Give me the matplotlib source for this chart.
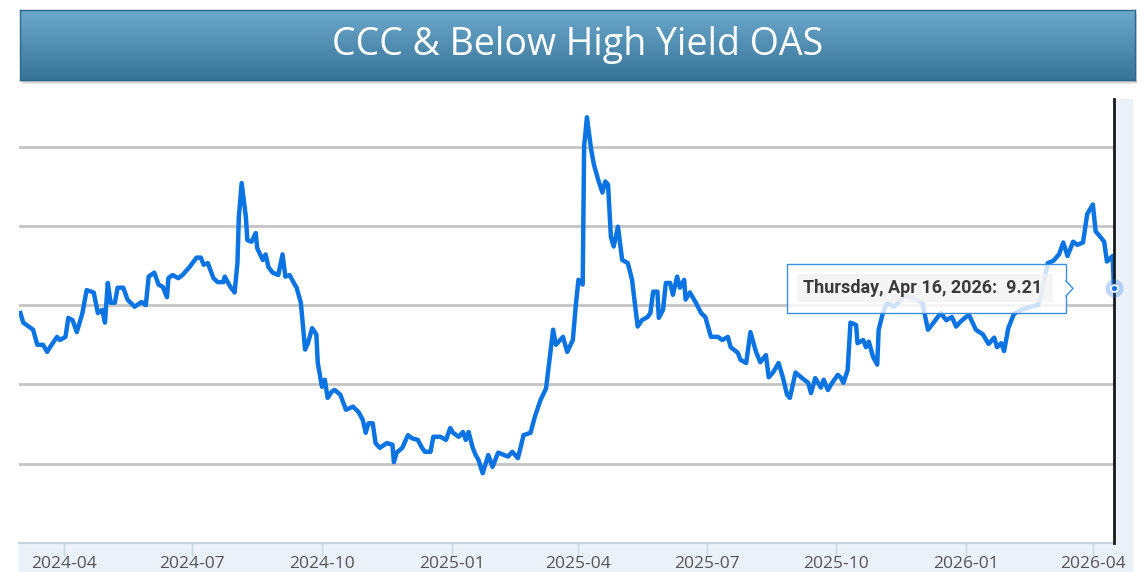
import numpy as np
import pandas as pd
import matplotlib
matplotlib.use("Agg")
import matplotlib.pyplot as plt
import matplotlib.dates as mdates
from matplotlib.patches import Rectangle, Polygon
from matplotlib.transforms import IdentityTransform

# ---------------- data ----------------
BASE_DATE = "2024-04-01"
day_offsets = [
    -31, -29, -22, -19, -15, -12, -10, -5, -3, 1, 3, 6, 9, 13, 16, 21, 24, 27, 29, 31,
    33, 36, 38, 42, 45, 50, 55, 58, 60, 64, 67, 70, 73, 74, 77, 81, 84, 89, 94, 97,
    99, 102, 106, 109, 113, 114, 118, 121, 123, 124, 126, 129, 130, 133, 136, 137, 141, 143, 145, 148,
    152, 155, 157, 160, 163, 165, 168, 171, 173, 176, 179, 180, 183, 185, 187, 190, 192, 196, 200, 205,
    209, 212, 214, 216, 219, 221, 224, 229, 233, 234, 236, 240, 244, 247, 251, 254, 256, 260, 262, 267,
    271, 274, 276, 280, 283, 285, 287, 290, 292, 294, 297, 301, 304, 308, 315, 318, 322, 324, 326, 331,
    334, 338, 342, 345, 347, 349, 354, 357, 361, 363, 365, 368, 369, 371, 374, 376, 379, 382, 384, 386,
    388, 390, 393, 396, 400, 403, 407, 410, 414, 416, 418, 421, 422, 425, 427, 430, 432, 435, 437, 440,
    441, 444, 448, 452, 455, 459, 464, 467, 471, 473, 478, 480, 484, 487, 491, 494, 498, 500, 503, 507,
    510, 513, 515, 519, 523, 528, 530, 533, 537, 539, 542, 545, 549, 551, 553, 556, 558, 562, 563, 567,
    569, 571, 574, 577, 578, 581, 584, 589, 597, 602, 609, 613, 617, 622, 626, 630, 633, 636, 642, 647,
    652, 656, 660, 662, 665, 667, 670, 674, 679, 686, 691, 693, 698, 702, 706, 709, 712, 716, 719, 723,
    726, 730, 732, 734, 738, 740, 744, 745,
]
oas_values = [
    8.90, 8.78, 8.69, 8.50, 8.50, 8.41, 8.47, 8.60, 8.56, 8.60, 8.84, 8.81, 8.66, 8.90, 9.19, 9.16, 8.90, 8.94, 8.78, 9.28,
    9.03, 9.03, 9.22, 9.22, 9.07, 8.98, 9.04, 9.00, 9.36, 9.41, 9.26, 9.23, 9.10, 9.34, 9.38, 9.34, 9.38, 9.48, 9.60, 9.60,
    9.51, 9.53, 9.34, 9.29, 9.29, 9.36, 9.23, 9.16, 9.53, 10.11, 10.54, 10.11, 9.82, 9.80, 9.91, 9.72, 9.57, 9.64, 9.48, 9.41,
    9.38, 9.64, 9.36, 9.38, 9.28, 9.22, 9.03, 8.44, 8.52, 8.71, 8.63, 8.27, 7.97, 8.06, 7.83, 7.91, 7.93, 7.87, 7.68, 7.72,
    7.65, 7.55, 7.39, 7.51, 7.51, 7.26, 7.20, 7.26, 7.24, 7.02, 7.14, 7.20, 7.36, 7.32, 7.30, 7.20, 7.15, 7.15, 7.34, 7.34,
    7.30, 7.45, 7.39, 7.34, 7.40, 7.30, 7.40, 7.20, 7.11, 7.05, 6.88, 7.11, 6.96, 7.14, 7.09, 7.15, 7.07, 7.21, 7.36, 7.39,
    7.59, 7.80, 7.95, 8.40, 8.69, 8.50, 8.60, 8.41, 8.56, 8.98, 9.32, 9.26, 11.00, 11.37, 10.96, 10.77, 10.58, 10.42, 10.56, 10.52,
    9.86, 9.74, 9.99, 9.57, 9.53, 9.32, 8.73, 8.81, 8.85, 8.90, 9.17, 9.17, 8.84, 8.94, 9.28, 9.28, 9.13, 9.36, 9.22, 9.32,
    9.07, 9.16, 9.04, 8.90, 8.85, 8.60, 8.60, 8.56, 8.60, 8.47, 8.40, 8.31, 8.27, 8.66, 8.41, 8.28, 8.37, 8.09, 8.15, 8.27,
    8.09, 7.87, 7.83, 8.15, 8.09, 8.02, 7.89, 8.08, 7.96, 8.06, 7.93, 8.02, 8.12, 8.09, 8.02, 8.18, 8.78, 8.75, 8.52, 8.56,
    8.47, 8.54, 8.35, 8.25, 8.69, 8.90, 9.03, 8.98, 9.13, 9.09, 9.03, 8.69, 8.78, 8.90, 8.81, 8.85, 8.73, 8.79, 8.88, 8.69,
    8.63, 8.51, 8.59, 8.47, 8.52, 8.42, 8.71, 8.89, 8.94, 8.98, 9.00, 9.10, 9.53, 9.56, 9.64, 9.79, 9.62, 9.80, 9.76, 9.79,
    10.15, 10.27, 9.93, 9.89, 9.80, 9.55, 9.62, 9.21,
]
tick_labels = ["2024-04", "2024-07", "2024-10", "2025-01", "2025-04",
               "2025-07", "2025-10", "2026-01", "2026-04"]
grid_levels = [7, 8, 9, 10, 11]
y_range = (6.0, 11.6)
title_text = "CCC & Below High Yield OAS"
tooltip_text = "Thursday, Apr 16, 2026:  9.21"

dates = pd.Timestamp(BASE_DATE) + pd.to_timedelta(day_offsets, unit="D")
values = np.array(oas_values)

# ---------------- figure ----------------
W, H = 1145, 572
fig = plt.figure(figsize=(W / 100, H / 100), dpi=100)
fig.patch.set_facecolor("white")

def fr(x0, y0, x1, y1):
    """pixel box (top-left origin) -> figure fraction rect"""
    return [x0 / W, 1 - y1 / H, (x1 - x0) / W, (y1 - y0) / H]

# banner shadow
for i, a in enumerate([0.10, 0.10, 0.12, 0.15]):
    off = 4 - i
    r = fr(20 + off * 0.5, 10 + off, 1135 + off * 0.5, 80 + off)
    fig.add_artist(Rectangle((r[0], r[1]), r[2], r[3], transform=fig.transFigure,
                             facecolor="#333333", edgecolor="none", alpha=a, zorder=0))

# banner gradient
bax = fig.add_axes(fr(20, 10, 1135, 80), zorder=1)
top_c = np.array([0x6c, 0xa8, 0xcb]) / 255
bot_c = np.array([0x38, 0x74, 0x97]) / 255
t = np.linspace(0, 1, 100)[:, None, None]
grad = top_c * (1 - t) + bot_c * t
grad = np.repeat(grad, 2, axis=1)
bax.imshow(grad, aspect="auto", extent=(0, 1, 0, 1), origin="upper")
bax.set_xlim(0, 1)
bax.set_ylim(0, 1)
for s in bax.spines.values():
    s.set_color("#2e6787")
    s.set_linewidth(1)
bax.set_xticks([])
bax.set_yticks([])
bax.text(0.5, 0.5, title_text, ha="center", va="center", color="white",
         fontsize=27, family="Open Sans", transform=bax.transAxes)

# light-blue strips (axis band and right margin)
r = fr(19, 543, 1133, 572)
fig.add_artist(Rectangle((r[0], r[1]), r[2], r[3], transform=fig.transFigure,
                         facecolor="#eaf1f9", edgecolor="none", zorder=0))
r = fr(1114, 99, 1133, 543)
fig.add_artist(Rectangle((r[0], r[1]), r[2], r[3], transform=fig.transFigure,
                         facecolor="#eaf1f9", edgecolor="none", zorder=0))

# main axes
ax = fig.add_axes(fr(19, 99, 1114, 543), zorder=2)
ax.set_facecolor("white")
ax.plot(dates, values, color="#0b74e2", lw=3.2, solid_joinstyle="round", zorder=3)
ax.set_xlim(dates[0] - pd.Timedelta(days=1), dates[-1])
ax.set_ylim(*y_range)
ax.set_yticks(grid_levels)
ax.yaxis.grid(True, color="#c4c4c4", lw=2)
ax.tick_params(axis="y", length=0, labelleft=False)
for k, s in ax.spines.items():
    s.set_visible(k == "bottom")
ax.spines["bottom"].set_color("#c9d3dd")
ax.spines["bottom"].set_linewidth(1.5)
tick_dates = [pd.Timestamp(l + "-01") for l in tick_labels]
ax.set_xticks(tick_dates)
ax.set_xticklabels(tick_labels, fontsize=12.5, color="#555555", family="Open Sans")
ax.tick_params(axis="x", length=9, width=1, color="#c9d5e2", pad=0)
ax.set_axisbelow(True)

# vertical cursor line + end marker
ax.axvline(dates[-1], color="#1a1a1a", lw=2, clip_on=False, zorder=4)
ax.plot([dates[-1]], [values[-1]], "o", ms=13, color="#1a73e8", alpha=0.28,
        mew=0, clip_on=False, zorder=5)
ax.plot([dates[-1]], [values[-1]], "o", ms=5, mfc="#1a73e8", mec="white",
        mew=1.2, clip_on=False, zorder=6)

# tooltip, placed relative to the last point (display pixels)
px, py = ax.transData.transform((mdates.date2num(dates[-1]), values[-1]))
ident = IdentityTransform()
fig.add_artist(Rectangle((px - 327, py - 25), 279, 49, transform=ident,
                         facecolor="white", alpha=0.8, edgecolor="none", zorder=7))
fig.add_artist(Rectangle((px - 327, py - 25), 279, 49, transform=ident,
                         facecolor="none", edgecolor="#3d8fe6", lw=1, zorder=8))
fig.add_artist(Rectangle((px - 317, py - 14), 256, 28, transform=ident,
                         facecolor="#f2f2f2", alpha=0.75, edgecolor="none", zorder=8))
fig.add_artist(Polygon([(px - 48.5, py + 8), (px - 41, py), (px - 48.5, py - 8)],
                       closed=False, transform=ident, facecolor="white",
                       edgecolor="#3d8fe6", lw=1, zorder=9))
fig.text(px - 311, py, tooltip_text, transform=ident, ha="left", va="center",
         fontsize=13, fontweight="bold", color="#3a3a3a", family="Roboto", zorder=10)

fig.savefig("out.png", dpi=100)
